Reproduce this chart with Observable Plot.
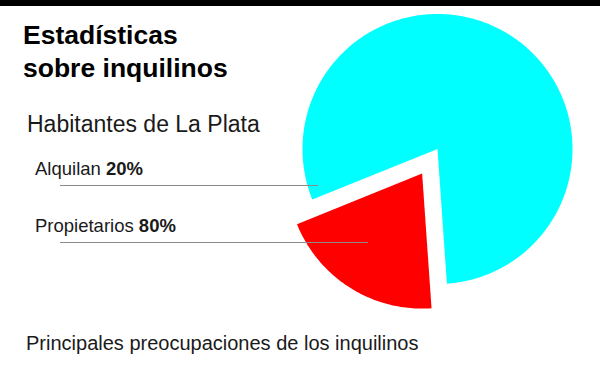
<!DOCTYPE html>
<html>
<head>
<meta charset="utf-8">
<script src="https://cdn.jsdelivr.net/npm/d3@7"></script>
<script src="https://cdn.jsdelivr.net/npm/@observablehq/plot@0.6"></script>
<style>
  html, body { margin: 0; padding: 0; background: #fff; }
  #wrap { position: relative; width: 600px; height: 365px; overflow: hidden; background: #fff;
          font-family: "Liberation Sans", Arial, sans-serif; color: #1a1a1a; }
  #wrap svg { position: absolute; left: 0; top: 0; }
  .bar { position: absolute; left: 0; top: 0; width: 600px; height: 6px; background: #000; }
  .title { position: absolute; left: 23px; top: 19px; font-size: 26.5px; line-height: 33px; font-weight: bold; color: #000; }
  .subtitle { position: absolute; left: 27px; top: 112.5px; font-size: 23px; line-height: 1; }
  .label { position: absolute; left: 35px; font-size: 18.5px; line-height: 1; white-space: nowrap; }
  .label b { font-weight: bold; }
  .footer { position: absolute; left: 26px; top: 332.5px; font-size: 20px; line-height: 1; white-space: nowrap; }
</style>
</head>
<body>
<div id="wrap"></div>
<script>
// ---- data ----
const categories = ["Alquilan", "Propietarios"];
const shares = [20, 80];
const title = ["Estadísticas", "sobre inquilinos"];
const subtitle = "Habitantes de La Plata";
const footer = "Principales preocupaciones de los inquilinos";

// ---- style / layout ----
const sliceColors = ["#ff0000", "#00ffff"];
const W = 600, H = 365;
const pie = { cx: 437, cy: 148.5, r: 135, startDeg: 176, explode: [29, 0] };
const leaders = [ // label top, rule y, rule end x
  { top: 160.3, y: 185, x1: 60, x2: 318 },
  { top: 217.3, y: 242, x1: 60, x2: 368 }
];

// ---- build slice polygons from shares ----
const total = d3.sum(shares);
const pts = [];
let acc = pie.startDeg;
categories.forEach((cat, i) => {
  const a0 = acc, a1 = acc + shares[i] / total * 360;
  acc = a1;
  const mid = (a0 + a1) / 2 * Math.PI / 180;
  const ox = pie.explode[i] * Math.sin(mid), oy = -pie.explode[i] * Math.cos(mid);
  const cx = pie.cx + ox, cy = pie.cy + oy;
  pts.push({ cat, x: cx, y: cy });
  const steps = Math.max(8, Math.ceil(a1 - a0));
  for (let k = 0; k <= steps; k++) {
    const a = (a0 + (a1 - a0) * k / steps) * Math.PI / 180;
    pts.push({ cat, x: cx + pie.r * Math.sin(a), y: cy - pie.r * Math.cos(a) });
  }
});

const chart = Plot.plot({
  width: W, height: H,
  margin: 0,
  x: { domain: [0, W], range: [0, W], axis: null },
  y: { domain: [0, H], range: [0, H], axis: null },
  color: { domain: categories, range: sliceColors },
  marks: [
    Plot.line(pts, { x: "x", y: "y", z: "cat", fill: "cat", stroke: "none", curve: "linear-closed" }),
    Plot.ruleY(leaders, { y: "y", x1: "x1", x2: "x2", stroke: "#8a8a8a", strokeWidth: 1 })
  ]
});

const wrap = document.getElementById("wrap");
wrap.appendChild(chart);

const add = (cls, html, style) => {
  const d = document.createElement("div");
  d.className = cls;
  d.innerHTML = html;
  if (style) Object.assign(d.style, style);
  wrap.appendChild(d);
};
add("bar", "");
add("title", title.join("<br>"));
add("subtitle", subtitle);
categories.forEach((c, i) => add("label", `${c} <b>${shares[i]}%</b>`, { top: leaders[i].top + "px" }));
add("footer", footer);
</script>
</body>
</html>
